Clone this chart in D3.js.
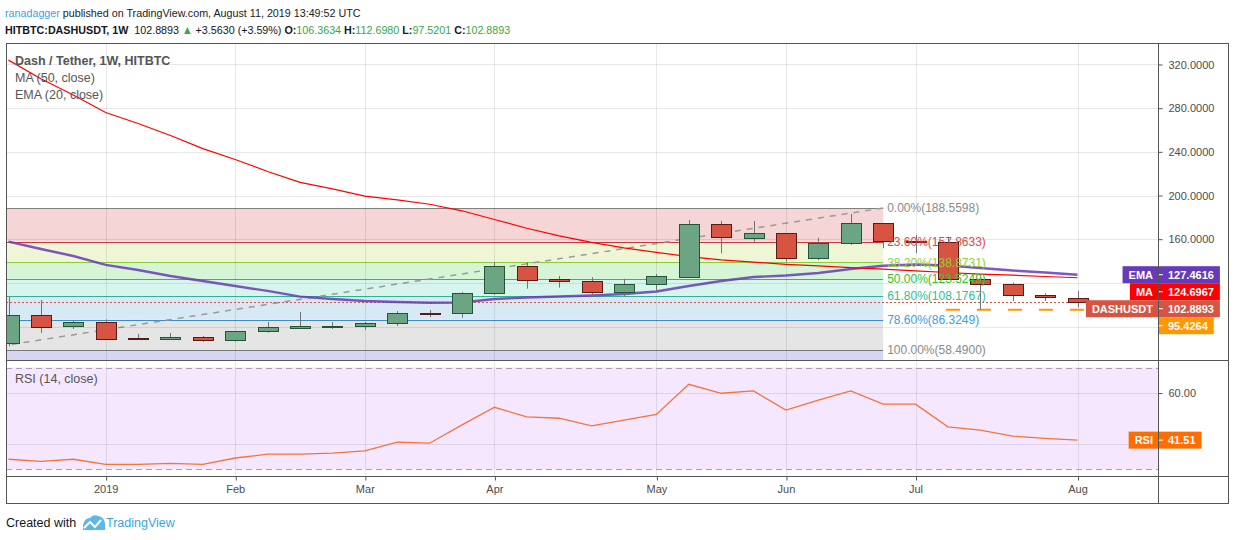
<!DOCTYPE html>
<html>
<head>
<meta charset="utf-8">
<script src="https://cdnjs.cloudflare.com/ajax/libs/d3/7.8.5/d3.min.js"></script>
<style>
  body { margin: 0; background: #ffffff; }
  svg { display: block; font-family: 'Liberation Sans', Arial, sans-serif; }
</style>
</head>
<body>
<div id="chart"></div>
<script>
// Weekly candles, DASH/USDT on HitBTC
const weeks = [
  '2018-12-17', '2018-12-24', '2018-12-31', '2019-01-07', '2019-01-14', '2019-01-21',
  '2019-01-28', '2019-02-04', '2019-02-11', '2019-02-18', '2019-02-25', '2019-03-04',
  '2019-03-11', '2019-03-18', '2019-03-25', '2019-04-01', '2019-04-08', '2019-04-15',
  '2019-04-22', '2019-04-29', '2019-05-06', '2019-05-13', '2019-05-20', '2019-05-27',
  '2019-06-03', '2019-06-10', '2019-06-17', '2019-06-24', '2019-07-01', '2019-07-08',
  '2019-07-15', '2019-07-22', '2019-07-29', '2019-08-05',
];
const opens = [
  64.9, 90.6, 79.9, 83.9, 69.5, 68.3, 70.2, 67.5, 75.6, 79.0, 79.6, 79.9,
  82.8, 92.1, 92.1, 110.4, 135.2, 123.6, 121.7, 111.4, 118.7, 124.7, 173.6, 160.8,
  165.4, 142.5, 156.2, 174.5, 158.1, 157.7, 123.3, 118.7, 108.6, 106.3634,
];
const highs = [
  107.0, 104.3, 85.4, 86.6, 73.2, 74.1, 71.3, 75.6, 84.2, 93.3, 84.2, 84.2,
  94.2, 95.1, 111.6, 139.0, 139.0, 126.3, 125.1, 123.8, 128.1, 177.6, 176.7, 176.7,
  165.7, 161.4, 183.1, 174.5, 163.8, 162.3, 124.2, 120.2, 110.4, 112.698,
];
const lows = [
  62.0, 74.1, 77.8, 68.0, 68.1, 68.0, 66.1, 66.1, 74.4, 77.8, 77.8, 77.2,
  80.5, 88.7, 88.1, 108.9, 114.7, 115.6, 107.3, 107.3, 111.4, 124.7, 147.0, 157.7,
  139.4, 140.9, 154.7, 151.7, 147.3, 124.2, 95.4264, 103.4, 103.4, 97.5201,
];
const closes = [
  90.6, 79.6, 83.9, 68.3, 68.3, 70.2, 67.1, 75.6, 79.3, 80.5, 80.5, 83.0,
  92.1, 91.5, 110.4, 135.5, 122.4, 121.5, 111.4, 118.7, 126.0, 173.6, 161.7, 165.4,
  142.5, 156.2, 174.5, 158.1, 157.7, 124.2, 118.7, 108.6, 106.8, 102.8893,
];
const ma50 = [
  324.0, 307.0, 292.0, 276.0, 266.0, 255.0, 243.0, 233.0, 222.0, 212.0, 206.0, 199.5,
  196.0, 192.0, 186.0, 178.0, 170.0, 163.0, 157.0, 152.0, 148.0, 144.0, 141.0, 139.0,
  137.0, 135.5, 134.0, 132.5, 131.0, 129.5, 128.0, 127.0, 125.8, 124.6967,
];
const ema20 = [
  157.7, 151.0, 144.6, 136.4, 131.8, 126.3, 121.7, 117.1, 112.6, 107.4, 105.2, 103.4,
  102.5, 101.8, 102.0, 105.2, 106.6, 107.5, 108.4, 109.8, 112.1, 117.1, 121.7, 125.4,
  126.7, 129.0, 132.7, 135.7, 136.8, 135.9, 133.6, 131.3, 129.5, 127.4616,
];
const rsi14 = [
  34.0, 33.2, 34.0, 32.0, 32.0, 32.4, 32.0, 34.5, 36.0, 36.0, 36.4, 37.3,
  40.7, 40.3, 47.5, 54.4, 50.6, 50.1, 47.1, 49.4, 51.6, 63.4, 59.9, 60.8,
  53.3, 57.2, 60.8, 55.6, 55.6, 46.7, 45.4, 43.1, 42.2, 41.51,
];

const monthTicks = ['2019-01-07', '2019-02-04', '2019-03-04', '2019-04-01', '2019-05-06', '2019-06-03', '2019-07-01', '2019-08-05'];
const monthLabels = ['2019', 'Feb', 'Mar', 'Apr', 'May', 'Jun', 'Jul', 'Aug'];
const priceTicks = [80, 120, 160, 200, 240, 280, 320];
const rsiTicks = [40, 60];

// Fib retracement drawn from the December low to the June high
const fibLevels = [0, 0.236, 0.382, 0.5, 0.618, 0.786, 1, 1.618];
const fibLineColors = ['#808080', '#c8383a', '#8ccc3c', '#2ec42e', '#34b097', '#3a8ec6', '#787878', '#7b7be0'];
const fibFillColors = [null, '#f5d5d5', '#eef6d6', '#d6f5d6', '#d6f5ec', '#d6e9f5', '#e5e5e5', '#d6d6f4'];
const fibTextColors = ['#8a8a8a', '#e04848', '#8fd03c', '#2ec42e', '#31bd93', '#40a0dc', '#8a8a8a'];
const fibLow = 58.49;
const fibHigh = 188.5598;
const fibStart = '2018-12-10';
const fibEnd = '2019-06-24';

const supportLevel = 95.4264;
const supportStart = '2019-07-08';

const parseDate = d3.utcParse('%Y-%m-%d');
const fmt4 = d3.format('.4f');

const bars = weeks.map((w, i) => ({
  date: parseDate(w),
  open: opens[i],
  high: highs[i],
  low: lows[i],
  close: closes[i],
}));

const drawChart = () => {
  const totalWidth = 1234;
  const totalHeight = 540;
  const plot = { left: 6, right: 1158, outerRight: 1228, top: 43 };
  const pricePane = { top: 43, bottom: 360.5 };
  const rsiPane = { top: 361, bottom: 476.5 };
  const frameBottom = 503.5;
  const frameColor = '#555555';
  const textColor = '#4c4c4c';

  const xScale = d3
    .scaleUtc()
    .domain([bars[0].date, bars[bars.length - 1].date])
    .range([8.5, 1077.5]);

  const yPrice = d3.scaleLinear().domain([48.88, 339.69]).range([pricePane.bottom, pricePane.top]);
  const yRsi = d3.scaleLinear().domain([27.24, 72.56]).range([rsiPane.bottom, rsiPane.top]);

  const bodyWidth = 20;
  const last = bars.length - 1;

  const svg = d3
    .select('#chart')
    .append('svg')
    .attr('width', totalWidth)
    .attr('height', totalHeight)
    .attr('viewBox', `0 0 ${totalWidth} ${totalHeight}`);

  const defs = svg.append('defs');
  defs.append('clipPath').attr('id', 'clip-price')
    .append('rect')
    .attr('x', plot.left).attr('y', pricePane.top)
    .attr('width', plot.right - plot.left).attr('height', pricePane.bottom - pricePane.top);
  defs.append('clipPath').attr('id', 'clip-rsi')
    .append('rect')
    .attr('x', plot.left).attr('y', rsiPane.top)
    .attr('width', plot.right - plot.left).attr('height', rsiPane.bottom - rsiPane.top);

  // Header, squeezed a little to the narrow face of the original
  const header = svg.append('g')
    .attr('transform', 'translate(5,0) scale(0.91,1)')
    .attr('font-size', 11.8);
  header.append('text')
    .attr('y', 17)
    .attr('fill', '#222')
    .call((t) => {
      t.append('tspan').attr('fill', '#3d9fe0').text('ranadagger');
      t.append('tspan').text(' published on TradingView.com, August 11, 2019 13:49:52 UTC');
    });

  const green = '#37a849';
  header.append('text')
    .attr('y', 34)
    .attr('fill', '#131722')
    .call((t) => {
      t.append('tspan').attr('font-weight', 'bold').text('HITBTC:DASHUSDT, 1W');
      t.append('tspan').text('\u00a0 102.8893 ');
      t.append('tspan').attr('fill', green).text('\u25b2');
      t.append('tspan').text(' +3.5630 (+3.59%) ');
      const ohlc = [['O:', '106.3634'], ['H:', '112.6980'], ['L:', '97.5201'], ['C:', '102.8893']];
      ohlc.forEach(([k, v], i) => {
        t.append('tspan').attr('font-weight', 'bold').text(k);
        t.append('tspan').attr('fill', green).text(v + (i < ohlc.length - 1 ? ' ' : ''));
      });
    });

  // Pane backgrounds: RSI band
  svg.append('rect')
    .attr('x', plot.left).attr('y', yRsi(70))
    .attr('width', plot.right - plot.left).attr('height', yRsi(30) - yRsi(70))
    .attr('fill', '#f4e7fe');

  // Fib retracement fills and lines
  const fibG = svg.append('g').attr('clip-path', 'url(#clip-price)');
  const fibX0 = xScale(parseDate(fibStart));
  const fibX1 = xScale(parseDate(fibEnd));
  const fibValue = (l) => fibHigh - l * (fibHigh - fibLow);

  fibG.selectAll('rect.band')
    .data(fibLevels.slice(1))
    .join('rect')
    .attr('class', 'band')
    .attr('x', fibX0)
    .attr('width', fibX1 - fibX0)
    .attr('y', (l, i) => yPrice(fibValue(fibLevels[i])))
    .attr('height', (l, i) => yPrice(fibValue(l)) - yPrice(fibValue(fibLevels[i])))
    .attr('fill', (l, i) => fibFillColors[i + 1]);

  // Gridlines (drawn over the fills, as a soft darkening)
  const grid = svg.append('g').attr('stroke', '#000').attr('stroke-opacity', 0.09);
  grid.selectAll('line.h')
    .data(priceTicks)
    .join('line')
    .attr('x1', plot.left).attr('x2', plot.right)
    .attr('y1', (d) => Math.round(yPrice(d)) + 0.5)
    .attr('y2', (d) => Math.round(yPrice(d)) + 0.5);
  grid.selectAll('line.r')
    .data(rsiTicks)
    .join('line')
    .attr('x1', plot.left).attr('x2', plot.right)
    .attr('y1', (d) => Math.round(yRsi(d)) + 0.5)
    .attr('y2', (d) => Math.round(yRsi(d)) + 0.5);
  grid.selectAll('line.v')
    .data(monthTicks)
    .join('line')
    .attr('x1', (d) => Math.round(xScale(parseDate(d))) + 0.5)
    .attr('x2', (d) => Math.round(xScale(parseDate(d))) + 0.5)
    .attr('y1', plot.top).attr('y2', rsiPane.bottom);

  fibG.selectAll('line.level')
    .data(fibLevels)
    .join('line')
    .attr('x1', fibX0).attr('x2', fibX1)
    .attr('y1', (l) => Math.round(yPrice(fibValue(l))) + 0.5)
    .attr('y2', (l) => Math.round(yPrice(fibValue(l))) + 0.5)
    .attr('stroke', (l, i) => fibLineColors[i])
    .attr('stroke-width', 1.2);

  // Fib trend line
  fibG.append('line')
    .attr('x1', fibX0).attr('y1', yPrice(fibLow))
    .attr('x2', fibX1).attr('y2', yPrice(fibHigh))
    .attr('stroke', '#9a9a9a')
    .attr('stroke-width', 1.5)
    .attr('stroke-dasharray', '6,6');

  // Last price line
  svg.append('line')
    .attr('x1', plot.left).attr('x2', plot.right)
    .attr('y1', Math.round(yPrice(closes[last])) + 0.5)
    .attr('y2', Math.round(yPrice(closes[last])) + 0.5)
    .attr('stroke', '#d75442')
    .attr('stroke-dasharray', '2,2');

  // Support line
  svg.append('line')
    .attr('x1', xScale(parseDate(supportStart)) - 2).attr('x2', plot.right)
    .attr('y1', yPrice(supportLevel)).attr('y2', yPrice(supportLevel))
    .attr('stroke', '#ff9800')
    .attr('stroke-width', 2)
    .attr('stroke-dasharray', '14,17');

  // Moving averages
  const series = svg.append('g').attr('clip-path', 'url(#clip-price)');
  const lineOf = (values) =>
    d3.line().x((d, i) => xScale(bars[i].date)).y((d) => yPrice(d))(values);
  series.append('path')
    .attr('d', lineOf(ema20))
    .attr('fill', 'none')
    .attr('stroke', '#673ab7')
    .attr('stroke-width', 2.4)
    .attr('stroke-opacity', 0.85);
  series.append('path')
    .attr('d', lineOf(ma50))
    .attr('fill', 'none')
    .attr('stroke', '#ff0000')
    .attr('stroke-width', 1.2);

  // Candles
  const candles = svg.append('g')
    .attr('clip-path', 'url(#clip-price)')
    .selectAll('g')
    .data(bars)
    .join('g');
  const cx = (d) => Math.round(xScale(d.date));
  candles.append('line')
    .attr('x1', (d) => cx(d) + 0.5).attr('x2', (d) => cx(d) + 0.5)
    .attr('y1', (d) => yPrice(d.high)).attr('y2', (d) => yPrice(d.low))
    .attr('stroke', '#737375');
  candles.append('rect')
    .attr('x', (d) => cx(d) - bodyWidth / 2 + 0.5)
    .attr('y', (d) => Math.round(yPrice(Math.max(d.open, d.close))) + 0.5)
    .attr('width', bodyWidth)
    .attr('height', (d) => Math.max(1, Math.round(Math.abs(yPrice(d.open) - yPrice(d.close)))))
    .attr('fill', (d) => (d.close >= d.open ? '#6ba583' : '#d75442'))
    .attr('stroke', (d) => (d.close >= d.open ? '#225437' : '#5b1a13'));

  // Fib labels
  svg.append('g')
    .attr('font-size', 12)
    .selectAll('text')
    .data(fibLevels.filter((l) => fibValue(l) > yPrice.domain()[0]))
    .join('text')
    .attr('x', fibX1 + 4)
    .attr('y', (l) => yPrice(fibValue(l)))
    .attr('dy', '0.36em')
    .attr('fill', (l, i) => fibTextColors[i])
    .text((l) => `${(l * 100).toFixed(2)}%(${fmt4(fibValue(l))})`);

  // RSI pane
  const rsiG = svg.append('g').attr('clip-path', 'url(#clip-rsi)');
  rsiG.selectAll('line.band')
    .data([70, 30])
    .join('line')
    .attr('x1', plot.left).attr('x2', plot.right)
    .attr('y1', (d) => Math.round(yRsi(d)) + 0.5)
    .attr('y2', (d) => Math.round(yRsi(d)) + 0.5)
    .attr('stroke', '#a8a2b2')
    .attr('stroke-dasharray', '6,4');
  rsiG.append('path')
    .attr('d', d3.line().x((d, i) => xScale(bars[i].date)).y((d) => yRsi(d))(rsi14))
    .attr('fill', 'none')
    .attr('stroke', '#f4743a')
    .attr('stroke-width', 1.3);

  // Legends
  svg.append('text')
    .attr('x', 15).attr('y', 65)
    .attr('font-size', 12.5).attr('font-weight', 'bold').attr('fill', '#555')
    .text('Dash / Tether, 1W, HITBTC');
  svg.append('text')
    .attr('x', 15).attr('y', 82)
    .attr('font-size', 12.5).attr('fill', '#555')
    .text('MA (50, close)');
  svg.append('text')
    .attr('x', 15).attr('y', 99)
    .attr('font-size', 12.5).attr('fill', '#555')
    .text('EMA (20, close)');
  svg.append('text')
    .attr('x', 15).attr('y', 383)
    .attr('font-size', 12.5).attr('fill', '#555')
    .text('RSI (14, close)');

  // Frame
  const frame = svg.append('g').attr('stroke', frameColor).attr('fill', 'none');
  frame.append('rect')
    .attr('x', plot.left + 0.5).attr('y', plot.top + 0.5)
    .attr('width', plot.outerRight - plot.left).attr('height', frameBottom - plot.top - 0.5);
  frame.append('line')
    .attr('x1', plot.right + 0.5).attr('x2', plot.right + 0.5)
    .attr('y1', plot.top).attr('y2', frameBottom);
  frame.append('line')
    .attr('x1', plot.left).attr('x2', plot.outerRight)
    .attr('y1', pricePane.bottom).attr('y2', pricePane.bottom);
  frame.append('line')
    .attr('x1', plot.left).attr('x2', plot.outerRight)
    .attr('y1', rsiPane.bottom).attr('y2', rsiPane.bottom);

  // Price scale labels, pushed apart so they do not overlap
  const labelHeight = 17;
  const placeLabels = (labels, scale) => {
    const sorted = labels
      .map((l) => ({ ...l, y: scale(l.value) }))
      .sort((a, b) => a.y - b.y);
    let bottom = -Infinity;
    sorted.forEach((l) => {
      l.top = Math.max(l.y - labelHeight / 2, bottom);
      bottom = l.top + labelHeight;
    });
    return sorted;
  };

  const priceLabels = placeLabels([
    { name: 'EMA', value: ema20[last], text: fmt4(ema20[last]), color: '#673ab7' },
    { name: 'MA', value: ma50[last], text: fmt4(ma50[last]), color: '#ff0000' },
    { name: 'DASHUSDT', value: closes[last], text: fmt4(closes[last]), color: '#d75442' },
    { name: '', value: supportLevel, text: fmt4(supportLevel), color: '#ff9800' },
  ], yPrice);
  const rsiLabels = placeLabels([
    { name: 'RSI', value: rsi14[last], text: rsi14[last].toFixed(2), color: '#ff6d00' },
  ], yRsi);

  // Tick labels hidden under a value label are left out, as on the original
  const freeOf = (labels, scale) => (v) =>
    labels.every((l) => scale(v) < l.top - 5 || scale(v) > l.top + labelHeight + 5);

  // Axes
  const styleAxis = (g) => {
    g.select('.domain').remove();
    g.selectAll('.tick line').attr('stroke', frameColor);
    g.selectAll('.tick text').attr('fill', textColor).attr('font-size', 11)
      .attr('font-family', "'Liberation Sans', Arial, sans-serif");
  };
  svg.append('g')
    .attr('transform', `translate(${plot.right + 0.5},0)`)
    .call(
      d3.axisRight(yPrice)
        .tickValues(priceTicks.filter(freeOf(priceLabels, yPrice)))
        .tickFormat(fmt4).tickSize(4).tickPadding(6)
    )
    .call(styleAxis);
  svg.append('g')
    .attr('transform', `translate(${plot.right + 0.5},0)`)
    .call(
      d3.axisRight(yRsi)
        .tickValues(rsiTicks.filter(freeOf(rsiLabels, yRsi)))
        .tickFormat(d3.format('.2f')).tickSize(4).tickPadding(6)
    )
    .call(styleAxis);
  svg.append('g')
    .attr('transform', `translate(0,${rsiPane.bottom})`)
    .call(
      d3.axisBottom(xScale)
        .tickValues(monthTicks.map(parseDate))
        .tickFormat((d, i) => monthLabels[i])
        .tickSize(4)
        .tickPadding(5)
    )
    .call(styleAxis)
    .call((g) => g.selectAll('.tick line').attr('transform', 'translate(0.5,0)'));

  const drawLabels = (labels) => {
    const g = svg.append('g').attr('font-size', 11).attr('font-weight', 'bold');
    labels.forEach((l) => {
      const valueText = g.append('text')
        .attr('x', plot.right + 10).attr('y', l.top + labelHeight / 2)
        .attr('dy', '0.36em').attr('fill', '#fff').text(l.text);
      const vw = valueText.node().getComputedTextLength();
      g.insert('rect', 'text')
        .attr('x', plot.right + 1).attr('y', l.top)
        .attr('width', vw + 15).attr('height', labelHeight)
        .attr('fill', l.color);
      g.append('line')
        .attr('x1', plot.right + 1).attr('x2', plot.right + 5)
        .attr('y1', l.top + labelHeight / 2).attr('y2', l.top + labelHeight / 2)
        .attr('stroke', '#fff');
      if (l.name) {
        const nameText = g.append('text')
          .attr('x', plot.right - 5).attr('y', l.top + labelHeight / 2)
          .attr('dy', '0.36em').attr('text-anchor', 'end').attr('fill', '#fff').text(l.name);
        const nw = nameText.node().getComputedTextLength();
        g.insert('rect', 'text')
          .attr('x', plot.right - nw - 11).attr('y', l.top)
          .attr('width', nw + 11).attr('height', labelHeight)
          .attr('fill', l.color);
      }
    });
  };

  drawLabels(priceLabels);
  drawLabels(rsiLabels);

  // Footer
  const footer = svg.append('g');
  footer.append('text')
    .attr('x', 6).attr('y', 527)
    .attr('font-size', 12.5).attr('fill', '#131722')
    .text('Created with');
  footer.append('path')
    .attr('d', 'M83,530 L83,526 Q84,518 90,518 Q93,514 98,516 Q104,517 105,523 L105,530 Z')
    .attr('fill', '#5ab9e6');
  footer.append('path')
    .attr('d', 'M84,528 L90,522 L95,527 L101,520')
    .attr('fill', 'none').attr('stroke', '#ffffff').attr('stroke-width', 2);
  footer.append('text')
    .attr('x', 106).attr('y', 527)
    .attr('font-size', 12.5).attr('fill', '#3aa6de')
    .text('TradingView');
};

drawChart();
</script>
</body>
</html>
